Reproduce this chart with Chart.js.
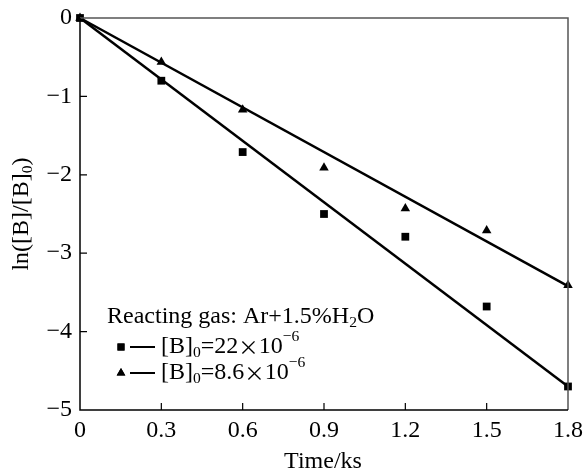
<!DOCTYPE html>
<html>
<head>
<meta charset="utf-8">
<script src="https://cdn.jsdelivr.net/npm/chart.js@4"></script>
<style>
  html, body { margin: 0; padding: 0; background: #fff; }
  #wrap { width: 584px; height: 473px; }
</style>
</head>
<body>
<div id="wrap"><canvas id="chart"></canvas></div>
<script>
const times = [0, 0.3, 0.6, 0.9, 1.2, 1.5, 1.8];
const seriesA = [0, -0.80, -1.71, -2.50, -2.79, -3.68, -4.70];   // [B]0 = 22e-6
const seriesB = [0, -0.56, -1.17, -1.91, -2.43, -2.71, -3.41];   // [B]0 = 8.6e-6
const fitA = [0, -4.70];
const fitB = [0, -3.42];
const fitX = [0, 1.8];
const xTicks = ['0', '0.3', '0.6', '0.9', '1.2', '1.5', '1.8'];
const yTicks = ['\u22125', '\u22124', '\u22123', '\u22122', '\u22121', '0'];

const FONT = '"Liberation Serif", "Times New Roman", serif';
const CJK = '"Noto Sans CJK SC", sans-serif';

function pts(xs, ys) { return xs.map((x, i) => ({ x, y: ys[i] })); }

// draws a run of [text, mode] pieces, mode: 'n' normal, 'sub', 'sup', 'cjk'
function fontFor(mode, size) {
  if (mode === 'cjk') return `${size * 0.85}px ${CJK}`;
  return `${mode === 'n' ? size : size * 0.65}px ${FONT}`;
}
function drawRich(ctx, parts, x, y, size) {
  let cx = x;
  parts.forEach(([t, mode]) => {
    const dy = mode === 'sub' ? size * 0.25 : mode === 'sup' ? -size * 0.4 : 0;
    ctx.font = fontFor(mode, size);
    ctx.fillText(t, cx, y + dy);
    cx += ctx.measureText(t).width;
  });
  return cx;
}
function richWidth(ctx, parts, size) {
  let w = 0;
  parts.forEach(([t, mode]) => {
    ctx.font = fontFor(mode, size);
    w += ctx.measureText(t).width;
  });
  return w;
}

const decor = {
  id: 'decor',
  afterDraw(chart) {
    const { ctx, chartArea: a, scales: { x, y } } = chart;
    ctx.save();
    // frame
    ctx.strokeStyle = '#555';
    ctx.lineWidth = 1.5;
    ctx.beginPath();
    ctx.moveTo(a.left, a.top); ctx.lineTo(a.right, a.top); ctx.lineTo(a.right, a.bottom);
    ctx.stroke();
    ctx.strokeStyle = '#000';
    ctx.beginPath();
    ctx.moveTo(a.left, a.top); ctx.lineTo(a.left, a.bottom); ctx.lineTo(a.right, a.bottom);
    ctx.stroke();
    // inward ticks
    ctx.lineWidth = 1.2;
    ctx.beginPath();
    times.slice(1, -1).forEach(v => {
      const px = x.getPixelForValue(v);
      ctx.moveTo(px, a.bottom); ctx.lineTo(px, a.bottom - 7);
    });
    [-1, -2, -3, -4].forEach(v => {
      const py = y.getPixelForValue(v);
      ctx.moveTo(a.left, py); ctx.lineTo(a.left + 7, py);
    });
    ctx.stroke();

    ctx.fillStyle = '#000';
    ctx.textBaseline = 'middle';
    // x title
    ctx.font = `24px ${FONT}`;
    ctx.textAlign = 'center';
    ctx.fillText('Time/ks', (a.left + a.right) / 2 - 1, 462);
    // y title
    const yt = [['ln([B]/[B]', 'n'], ['0', 'sub'], [')', 'n']];
    ctx.save();
    ctx.translate(22, 214);
    ctx.rotate(-Math.PI / 2);
    ctx.textAlign = 'left';
    drawRich(ctx, yt, -richWidth(ctx, yt, 24) / 2, 0, 24);
    ctx.restore();

    // legend
    ctx.textAlign = 'left';
    drawRich(ctx, [['Reacting gas: Ar+1.5%H', 'n'], ['2', 'sub'], ['O', 'n']], 107, 317, 24);
    const rows = [
      { style: 'rect', yy: 347, txt: [['[B]', 'n'], ['0', 'sub'], ['=22', 'n'], ['\u00d7', 'cjk'], ['10', 'n'], ['\u22126', 'sup']] },
      { style: 'triangle', yy: 373, txt: [['[B]', 'n'], ['0', 'sub'], ['=8.6', 'n'], ['\u00d7', 'cjk'], ['10', 'n'], ['\u22126', 'sup']] }
    ];
    rows.forEach(r => {
      Chart.helpers.drawPoint(ctx, { pointStyle: r.style, radius: 5, rotation: 0 }, 121, r.yy);
      ctx.fill();
      ctx.lineWidth = 2;
      ctx.beginPath();
      ctx.moveTo(130, r.yy); ctx.lineTo(155, r.yy);
      ctx.stroke();
      drawRich(ctx, r.txt, 161, r.yy, 24);
    });
    ctx.restore();
  }
};

new Chart(document.getElementById('chart'), {
  type: 'scatter',
  data: {
    datasets: [
      { data: pts(times, seriesA), pointStyle: 'rect', pointRadius: 5.5, backgroundColor: '#000', borderColor: '#000', borderWidth: 0, clip: false },
      { data: pts(times, seriesB), pointStyle: 'triangle', pointRadius: 5.5, backgroundColor: '#000', borderColor: '#000', borderWidth: 0, clip: false },
      { type: 'line', data: pts(fitX, fitA), borderColor: '#000', borderWidth: 2.5, pointRadius: 0, fill: false, clip: false },
      { type: 'line', data: pts(fitX, fitB), borderColor: '#000', borderWidth: 2.5, pointRadius: 0, fill: false, clip: false }
    ]
  },
  options: {
    responsive: true,
    maintainAspectRatio: false,
    animation: false,
    layout: { padding: { top: 18, right: 16, left: 0, bottom: 0 } },
    plugins: { legend: { display: false }, tooltip: { enabled: false } },
    scales: {
      x: {
        type: 'linear', min: 0, max: 1.8,
        afterBuildTicks: s => { s.ticks = times.map(v => ({ value: v })); },
        afterFit: s => { s.height = 63; s.paddingLeft = 0; s.paddingRight = 0; },
        grid: { display: false, drawTicks: false },
        border: { display: false },
        ticks: {
          color: '#000', padding: 6,
          font: { family: FONT, size: 24 },
          callback: (v, i) => xTicks[i]
        }
      },
      y: {
        type: 'linear', min: -5, max: 0,
        afterBuildTicks: s => { s.ticks = [-5, -4, -3, -2, -1, 0].map(v => ({ value: v })); },
        afterFit: s => { s.width = 80; s.paddingTop = 0; s.paddingBottom = 0; },
        grid: { display: false, drawTicks: false },
        border: { display: false },
        ticks: {
          color: '#000', padding: 8,
          font: { family: FONT, size: 24 },
          callback: (v, i) => yTicks[i]
        }
      }
    }
  },
  plugins: [decor]
});
</script>
</body>
</html>
